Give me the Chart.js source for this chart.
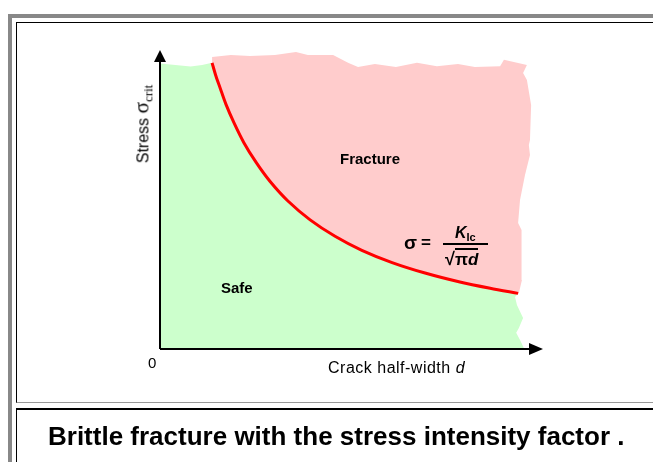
<!DOCTYPE html>
<html><head><meta charset="utf-8">
<script src="https://cdn.jsdelivr.net/npm/chart.js@4.4.1/dist/chart.umd.min.js"></script>
<style>
html,body{margin:0;padding:0;width:653px;height:462px;overflow:hidden;background:#fff;font-family:Arial,"Liberation Sans",sans-serif;}
#wrap{position:relative;width:653px;height:462px;overflow:hidden;}
canvas{position:absolute;left:0;top:0;}
.b{position:absolute;box-sizing:border-box;}
.t{position:absolute;white-space:nowrap;color:#000;line-height:1;}
.serif{font-family:"Liberation Serif","Times New Roman",serif;}
</style></head><body>
<div id="wrap">
<div class="b" style="left:8px;top:14px;width:700px;height:500px;border-left:4px solid #888;border-top:4px solid #888;"></div>
<div class="b" style="left:16px;top:22px;width:700px;height:381px;border-left:1px solid #000;border-top:1px solid #000;border-bottom:1px solid #999;"></div>
<div class="b" style="left:16px;top:408px;width:700px;height:100px;border-left:1px solid #000;border-top:2px solid #000;"></div>
<canvas id="c" width="653" height="462"></canvas>

<div class="t" style="left:143px;top:124px;transform:translate(-50%,-50%) rotate(-90deg);font-size:16px;">Stress <span class="serif" style="font-size:21px;">σ</span><sub class="serif" style="font-size:13px;">crit</sub></div>
<div class="t" style="left:340px;top:151px;font-size:15px;font-weight:bold;">Fracture</div>
<div class="t" style="left:221px;top:280px;font-size:15px;font-weight:bold;">Safe</div>
<div class="t" style="left:148px;top:355px;font-size:15px;">0</div>
<div class="t" style="left:328px;top:360px;font-size:16px;letter-spacing:0.5px;">Crack half-width <i>d</i></div>

<div class="t" style="left:404px;top:233px;font-size:19px;font-weight:bold;">σ</div>
<div class="t" style="left:421px;top:234px;font-size:17px;font-weight:bold;">=</div>
<div class="t" style="left:455px;top:225px;font-size:16px;font-weight:bold;"><i>K</i><span style="font-size:11px;position:relative;top:3px;">Ic</span></div>
<div class="b" style="left:443px;top:243px;width:45px;height:2px;background:#000;"></div>
<div class="t" style="left:445px;top:248px;font-size:18px;font-weight:bold;">√<span style="display:inline-block;border-top:2px solid #000;padding-top:1px;font-size:17px;">π<i>d</i></span></div>

<div class="t" style="left:48px;top:423px;font-size:26px;font-weight:bold;">Brittle fracture with the stress intensity factor .</div>
</div>

<script>
// Critical-stress curve (crack half-width d, stress sigma)
const curveD     = [1.36, 1.46, 1.57, 1.72, 1.93, 2.19, 2.51, 2.87, 3.34, 3.92, 4.57, 5.27, 6.06, 6.92, 7.83, 8.62, 9.35];
const curveSigma = [9.57, 9.13, 8.73, 8.19, 7.57, 6.90, 6.24, 5.61, 4.95, 4.32, 3.77, 3.30, 2.89, 2.54, 2.24, 2.03, 1.86];

// "Fracture" region outline beyond the curve: torn right edge (going up) then top edge (going left)
const fractureEdgeD     = [9.37, 9.45, 9.43, 9.45, 9.35, 9.40, 9.53, 9.66, 9.63, 9.66, 9.69, 9.58, 9.48, 9.58, 8.98, 8.88, 8.22, 7.78, 7.23, 6.71, 6.16, 5.61, 5.17, 4.91, 4.52, 3.86, 3.55, 3.00, 2.35, 1.85, 1.36];
const fractureEdgeSigma = [1.87, 2.31, 2.64, 3.98, 4.21, 4.98, 5.82, 6.49, 6.82, 6.99, 8.16, 9.00, 9.23, 9.50, 9.67, 9.46, 9.43, 9.53, 9.46, 9.57, 9.43, 9.53, 9.43, 9.57, 9.83, 9.83, 9.93, 9.83, 9.80, 9.83, 9.77];

// "Safe" region outline: top-left edge before the curve, and torn right edge below the curve
const safeTopD         = [0.00, 0.00, 0.40, 0.80, 1.10];
const safeTopSigma     = [0.00, 9.55, 9.50, 9.45, 9.50];
const safeRightD       = [9.27, 9.32, 9.48, 9.37, 9.30, 9.40, 9.50, 9.50];
const safeRightSigma   = [1.74, 1.47, 1.04, 0.70, 0.54, 0.30, 0.03, 0.00];

const xMax = 10, yMax = 10;

const pts = (xs, ys) => xs.map((x, i) => ({x, y: ys[i]}));
const curvePts = pts(curveD, curveSigma);
const fracturePts = curvePts.concat(pts(fractureEdgeD, fractureEdgeSigma));
const safePts = pts(safeTopD, safeTopSigma).concat(curvePts, pts(safeRightD, safeRightSigma));

const axesPlugin = {
  id: 'arrowAxes',
  afterDatasetsDraw(chart) {
    const {ctx, scales: {x, y}} = chart;
    const x0 = x.getPixelForValue(0), y0 = y.getPixelForValue(0);
    const xEnd = x.getPixelForValue(xMax), yEnd = y.getPixelForValue(yMax);
    ctx.save();
    ctx.strokeStyle = '#000'; ctx.fillStyle = '#000'; ctx.lineWidth = 2;
    ctx.beginPath();
    ctx.moveTo(x0, y0); ctx.lineTo(x0, yEnd + 10);
    ctx.moveTo(x0, y0); ctx.lineTo(xEnd - 12, y0);
    ctx.stroke();
    ctx.beginPath();
    ctx.moveTo(x0, yEnd); ctx.lineTo(x0 - 6, yEnd + 12); ctx.lineTo(x0 + 6, yEnd + 12); ctx.closePath();
    ctx.fill();
    ctx.beginPath();
    ctx.moveTo(xEnd, y0); ctx.lineTo(xEnd - 14, y0 - 6); ctx.lineTo(xEnd - 14, y0 + 6); ctx.closePath();
    ctx.fill();
    ctx.restore();
  }
};

new Chart(document.getElementById('c'), {
  type: 'line',
  data: {
    datasets: [
      { label: 'Critical stress', data: curvePts, borderColor: '#ff0000', borderWidth: 3, pointRadius: 0, tension: 0.3, fill: false },
      { label: 'Fracture', data: fracturePts, borderWidth: 0, borderColor: 'rgba(0,0,0,0)', backgroundColor: '#ffcccc', pointRadius: 0, tension: 0, fill: 'shape' },
      { label: 'Safe', data: safePts, borderWidth: 0, borderColor: 'rgba(0,0,0,0)', backgroundColor: '#ccffcc', pointRadius: 0, tension: 0, fill: 'shape' }
    ]
  },
  options: {
    responsive: false,
    animation: false,
    devicePixelRatio: 1,
    layout: { padding: { left: 160, top: 50, right: 110, bottom: 113 } },
    plugins: { legend: { display: false }, tooltip: { enabled: false }, title: { display: false } },
    scales: {
      x: { type: 'linear', min: 0, max: xMax, display: false },
      y: { type: 'linear', min: 0, max: yMax, display: false }
    }
  },
  plugins: [axesPlugin]
});
</script>
</body></html>
